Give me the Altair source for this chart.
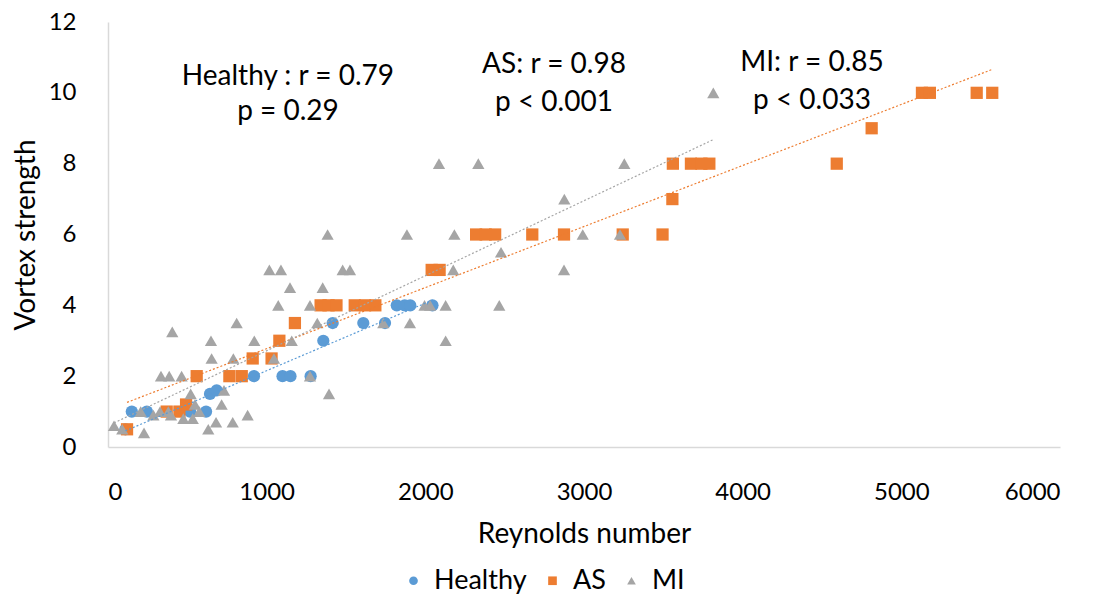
import altair as alt
import pandas as pd

groups = ["Healthy", "AS", "MI"]
colors = ["#5B9BD5", "#ED7D31", "#A5A5A5"]
shapes = ["circle", "square", "triangle-up"]

healthy_x = [110, 150, 245, 517, 618, 643, 685, 920, 1100, 1150, 1277, 1357, 1416, 1609, 1746, 1820, 1870, 1905, 2045]
healthy_y = [0.5, 1, 1, 1, 1, 1.5, 1.6, 2, 2, 2, 2, 3, 3.5, 3.5, 3.5, 4, 4, 4, 4]

as_x = [120, 370, 450, 492, 559, 765, 843, 912, 1031, 1080, 1178, 1340, 1390, 1440, 1555, 1620, 1685,
        2040, 2090, 2320, 2380, 2440, 2674, 2874, 3244, 3495, 3557, 3560, 3674, 3740, 3790, 4593, 4813,
        5130, 5180, 5475, 5573]
as_y = [0.5, 1, 1, 1.2, 2, 2, 2, 2.5, 2.5, 3, 3.5, 4, 4, 4, 4, 4, 4,
        5, 5, 6, 6, 6, 6, 6, 6, 6, 7, 8, 8, 8, 8, 8, 9,
        10, 10, 10, 10]

mi_x = [38, 90, 227, 206, 286, 328, 380, 397, 334, 386, 464, 405, 475, 534, 521, 548, 575, 632, 681, 716,
        731, 786, 880, 649, 653, 790, 922, 1046, 1158, 1273, 1393, 2128, 811, 1017, 1090, 1147, 1073, 1273,
        1353, 1319, 1479, 1525, 1735, 1903, 1995, 2030, 2128, 2086, 2334, 3254, 1384, 1884, 2183, 2992,
        3227, 2876, 2477, 2176, 2874, 2466, 3815]
mi_y = [0.6, 0.5, 0.4, 1.0, 0.9, 1.0, 1.0, 0.9, 2, 2, 2, 3.25, 0.8, 0.8, 1.5, 1.2, 1.0, 0.5, 0.7, 1.2,
        1.6, 0.7, 0.9, 3.0, 2.5, 2.5, 3.0, 2.5, 3.0, 2.0, 1.5, 3.0, 3.5, 5, 5, 4.5, 4, 4,
        4.5, 3.5, 5, 5, 3.5, 3.5, 4, 4, 4, 8, 8, 8, 6, 6, 6, 6,
        6, 7, 5.5, 5, 5, 4, 10]

annot_text = ["Healthy : r = 0.79", "p = 0.29", "AS: r = 0.98", "p < 0.001", "MI: r = 0.85", "p < 0.033"]
annot_x = [1134, 1134, 2811, 2811, 4437, 4437]
annot_y = [10.45, 9.47, 10.79, 9.72, 10.85, 9.77]

df = pd.concat([
    pd.DataFrame({"x": healthy_x, "y": healthy_y, "group": "Healthy"}),
    pd.DataFrame({"x": as_x, "y": as_y, "group": "AS"}),
    pd.DataFrame({"x": mi_x, "y": mi_y, "group": "MI"}),
], ignore_index=True)

ann = pd.DataFrame({"x": annot_x, "y": annot_y, "text": annot_text})

FONT = "Lato"

xenc = alt.X("x:Q", scale=alt.Scale(domain=[0, 6000], nice=False),
             axis=alt.Axis(values=[0, 1000, 2000, 3000, 4000, 5000, 6000], format="d",
                           title="Reynolds number", labelPadding=33, titlePadding=16))
yenc = alt.Y("y:Q", scale=alt.Scale(domain=[0, 12], nice=False),
             axis=alt.Axis(values=[0, 2, 4, 6, 8, 10, 12], title="Vortex strength",
                           labelPadding=32, titlePadding=8))

leg = alt.Legend(title=None, orient="none", direction="horizontal",
                 legendX=292, legendY=545, symbolSize=75,
                 labelFontSize=27, labelFont=FONT, labelColor="#000000",
                 labelOffset=7, columnPadding=12, padding=0)

points = alt.Chart(df).mark_point(filled=True, size=150, opacity=1).encode(
    x=xenc, y=yenc,
    color=alt.Color("group:N", scale=alt.Scale(domain=groups, range=colors), legend=leg),
    shape=alt.Shape("group:N", scale=alt.Scale(domain=groups, range=shapes), legend=leg),
)

lines = []
for g, c in zip(groups, colors):
    lines.append(
        alt.Chart(df).transform_filter(alt.datum.group == g)
        .transform_regression("x", "y")
        .mark_line(color=c, strokeWidth=1.2, strokeDash=[2, 2])
        .encode(x="x:Q", y="y:Q")
    )

text = alt.Chart(ann).mark_text(font=FONT, fontSize=28, color="#000000", align="center",
                                 baseline="middle").encode(
    x="x:Q", y="y:Q", text="text:N")

chart = alt.layer(points, *lines, text).properties(
    width=952, height=425,
    padding={"left": 100, "top": 14, "right": 32, "bottom": 152},
    autosize=alt.AutoSizeParams(type="none"),
).configure_view(stroke=None).configure_axis(
    grid=False, ticks=False, domainColor="#D9D9D9", domainWidth=1.5,
    labelFont=FONT, labelFontSize=24, labelColor="#000000",
    titleFont=FONT, titleFontSize=28, titleColor="#000000", titleFontWeight="normal",
)

chart.save("out.html", embed_options={"renderer": "svg", "actions": False})
